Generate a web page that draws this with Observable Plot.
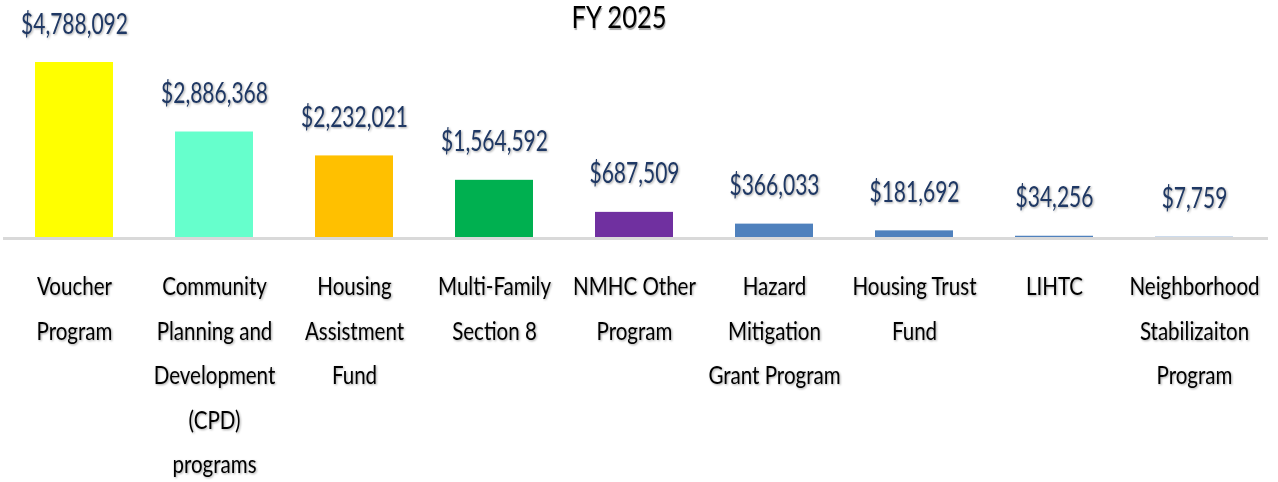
<!DOCTYPE html>
<html>
<head>
<meta charset="utf-8">
<script src="https://cdn.jsdelivr.net/npm/d3@7"></script>
<script src="https://cdn.jsdelivr.net/npm/@observablehq/plot@0.6"></script>
<style>
  html, body { margin: 0; padding: 0; background: #fff; overflow: hidden; }
  #wrap { position: relative; width: 1278px; height: 482px; }
  #chart svg { display: block; }
  #chart .vlabel, #chart .clabel { filter: drop-shadow(1px 1.5px 1px rgba(0,0,0,0.35)); }
  #title { position: absolute; left: 0; width: 1238px; text-align: center; top: 1px;
    font-family: Lato, "Liberation Sans", sans-serif; font-size: 30px; color: #000; line-height: 1;
    transform: scaleX(0.85); transform-origin: 619px 0; text-shadow: 1px 1.5px 1px rgba(0,0,0,0.35); }
</style>
</head>
<body>
<div id="wrap">
  <div id="chart"></div>
  <div id="title">FY 2025</div>
</div>
<script>
const categories = [
  "Voucher\nProgram",
  "Community\nPlanning and\nDevelopment\n(CPD)\nprograms",
  "Housing\nAssistment\nFund",
  "Multi-Family\nSection 8",
  "NMHC Other\nProgram",
  "Hazard\nMitigation\nGrant Program",
  "Housing Trust\nFund",
  "LIHTC",
  "Neighborhood\nStabilizaiton\nProgram"
];
const values = [4788092, 2886368, 2232021, 1564592, 687509, 366033, 181692, 34256, 7759];
const colors = ["#FFFF00", "#66FFCC", "#FFC000", "#00B050", "#7030A0", "#4F81BD", "#4F81BD", "#4F81BD", "#4F81BD"];

const data = categories.map((c, i) => ({category: c, value: values[i], color: colors[i]}));
const fmt = v => "$" + d3.format(",")(v);
const font = "Lato, 'Liberation Sans', sans-serif";

const chart = Plot.plot({
  width: 1278,
  height: 482,
  marginLeft: 3,
  marginRight: 10,
  marginTop: 0,
  marginBottom: 0,
  style: {fontFamily: font, background: "#fff"},
  x: {domain: categories, range: [32, 1235], paddingInner: 0.445, paddingOuter: 0, axis: null},
  y: {domain: [0, 4788092], range: [237, 62], axis: null},
  marks: [
    Plot.barY(data, {x: "category", y: "value", fill: "color"}),
    Plot.ruleY([0], {stroke: "#D9D9D9", strokeWidth: 3, dy: 1}),
    Plot.text(data, {x: "category", y: "value", text: d => fmt(d.value), lineAnchor: "bottom", dy: -29,
      fill: "#1F3864", fontSize: 28, className: "vlabel"}),
    Plot.text(data, {x: "category", y: () => 0, text: "category", lineAnchor: "top", dy: 26,
      lineHeight: 1.712, fill: "#000", fontSize: 26, className: "clabel"})
  ]
});
// condense the glyphs horizontally (reference uses a narrow, tall face)
function condense(sel, k) {
  d3.select(chart).selectAll(sel).each(function () {
    const t = this.getAttribute("transform");
    if (t) this.setAttribute("transform", t + ` scale(${k},1)`);
  });
}
condense(".vlabel text", 0.75);
condense(".clabel text", 0.79);
document.getElementById("chart").appendChild(chart);
</script>
</body>
</html>
